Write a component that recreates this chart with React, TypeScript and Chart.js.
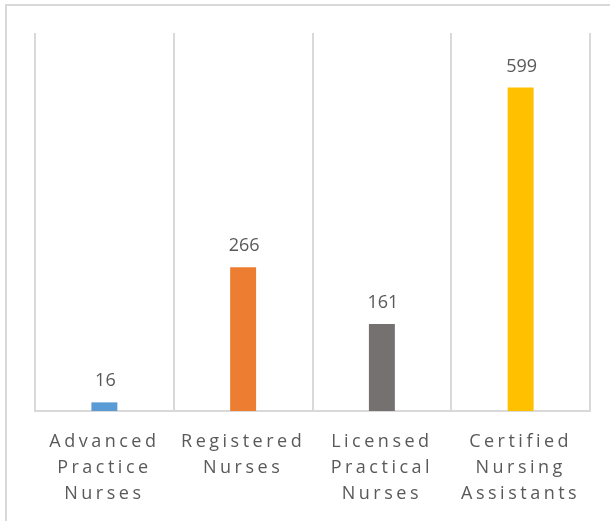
import React, { useEffect, useRef } from "react";
import { Chart, registerables } from "chart.js";

Chart.register(...registerables);

const categories: string[][] = [
  ["Advanced", "Practice", "Nurses"],
  ["Registered", "Nurses"],
  ["Licensed", "Practical", "Nurses"],
  ["Certified", "Nursing", "Assistants"],
];
const values: number[] = [16, 266, 161, 599];
const barColors: string[] = ["#5B9BD5", "#ED7D31", "#767171", "#FFC000"];
const yMax = 700;

const FONT = "'Open Sans', 'Noto Sans', sans-serif";

export default function App() {
  const ref = useRef<HTMLCanvasElement | null>(null);

  useEffect(() => {
    if (!ref.current) return;
    const frame = {
      id: "frame",
      beforeDraw(chart: any) {
        const ctx = chart.ctx;
        ctx.save();
        ctx.strokeStyle = "#d9d9d9";
        ctx.lineWidth = 2;
        ctx.beginPath();
        ctx.moveTo(6, 530);
        ctx.lineTo(6, 5);
        ctx.lineTo(620, 5);
        ctx.stroke();
        ctx.restore();
        (ctx as any).letterSpacing = "3.5px";
      },
      beforeDatasetsDraw(chart: any) {
        (chart.ctx as any).letterSpacing = "0px";
      },
      afterDatasetsDraw(chart: any) {
        const ctx = chart.ctx;
        const meta = chart.getDatasetMeta(0);
        ctx.save();
        (ctx as any).letterSpacing = "0px";
        ctx.fillStyle = "#595959";
        ctx.font = `18px ${FONT}`;
        ctx.textAlign = "center";
        ctx.textBaseline = "bottom";
        meta.data.forEach((el: any, i: number) => {
          ctx.fillText(String(values[i]), el.x + 1, el.y - 12);
        });
        ctx.restore();
      },
    };

    const chart = new Chart(ref.current, {
      type: "bar",
      data: {
        labels: categories,
        datasets: [
          {
            data: values,
            backgroundColor: barColors,
            borderWidth: 0,
            barPercentage: 0.187,
            categoryPercentage: 1,
          },
        ],
      },
      options: {
        animation: false,
        responsive: false,
        maintainAspectRatio: false,
        layout: { padding: { left: 35, right: 20, top: 33, bottom: 0 } },
        plugins: {
          legend: { display: false },
          tooltip: { enabled: false },
        },
        scales: {
          x: {
            grid: {
              display: true,
              color: "#d9d9d9",
              lineWidth: 2,
              drawTicks: false,
              offset: true,
            },
            border: { display: true, color: "#d9d9d9", width: 2 },
            ticks: {
              color: "#595959",
              font: { family: FONT, size: 18, lineHeight: 1.45 },
              padding: 18,
              maxRotation: 0,
              autoSkip: false,
            },
            afterFit: (scale: any) => {
              scale.height = 110;
            },
          },
          y: {
            display: false,
            min: 0,
            max: yMax,
          },
        },
      },
      plugins: [frame],
    });
    return () => chart.destroy();
  }, []);

  return (
    <div style={{ position: "fixed", left: 0, top: 0, width: 610, height: 521, background: "#fff" }}>
      <canvas ref={ref} width={610} height={521} style={{ display: "block" }} />
    </div>
  );
}
